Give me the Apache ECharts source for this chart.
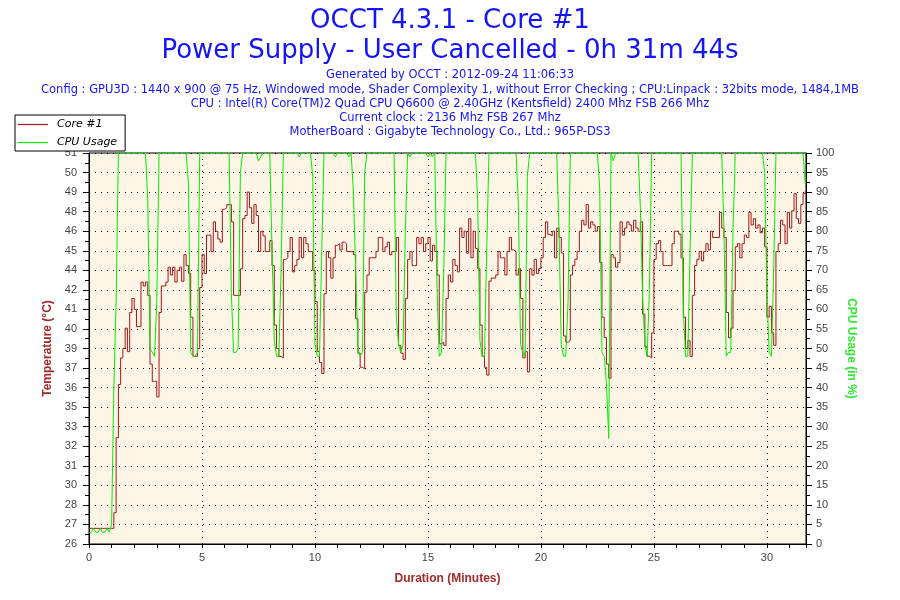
<!DOCTYPE html>
<html>
<head>
<meta charset="utf-8">
<script src="https://cdn.jsdelivr.net/npm/echarts@6/dist/echarts.min.js"></script>
<style>
html,body{margin:0;padding:0;background:#fff;}
#chart{width:900px;height:600px;}
</style>
</head>
<body>
<div id="chart"></div>
<script>
// Sample times (minutes)
const minutes = [
0,0.1,0.2,0.3,0.4,0.5,0.6,0.7,0.8,0.9,
1,1.1,1.2,1.3,1.4,1.5,1.6,1.7,1.8,1.9,
2,2.1,2.2,2.3,2.4,2.5,2.6,2.7,2.8,2.9,
3,3.1,3.2,3.3,3.4,3.5,3.6,3.7,3.8,3.9,
4,4.1,4.2,4.3,4.4,4.5,4.6,4.7,4.8,4.9,
5,5.1,5.2,5.3,5.4,5.5,5.6,5.7,5.8,5.9,
6,6.1,6.2,6.3,6.4,6.5,6.6,6.7,6.8,6.9,
7,7.1,7.2,7.3,7.4,7.5,7.6,7.7,7.8,7.9,
8,8.1,8.2,8.3,8.4,8.5,8.6,8.7,8.8,8.9,
9,9.1,9.2,9.3,9.4,9.5,9.6,9.7,9.8,9.9,
10,10.1,10.2,10.3,10.4,10.5,10.6,10.7,10.8,10.9,
11,11.1,11.2,11.3,11.4,11.5,11.6,11.7,11.8,11.9,
12,12.1,12.2,12.3,12.4,12.5,12.6,12.7,12.8,12.9,
13,13.1,13.2,13.3,13.4,13.5,13.6,13.7,13.8,13.9,
14,14.1,14.2,14.3,14.4,14.5,14.6,14.7,14.8,14.9,
15,15.1,15.2,15.3,15.4,15.5,15.6,15.7,15.8,15.9,
16,16.1,16.2,16.3,16.4,16.5,16.6,16.7,16.8,16.9,
17,17.1,17.2,17.3,17.4,17.5,17.6,17.7,17.8,17.9,
18,18.1,18.2,18.3,18.4,18.5,18.6,18.7,18.8,18.9,
19,19.1,19.2,19.3,19.4,19.5,19.6,19.7,19.8,19.9,
20,20.1,20.2,20.3,20.4,20.5,20.6,20.7,20.8,20.9,
21,21.1,21.2,21.3,21.4,21.5,21.6,21.7,21.8,21.9,
22,22.1,22.2,22.3,22.4,22.5,22.6,22.7,22.8,22.9,
23,23.1,23.2,23.3,23.4,23.5,23.6,23.7,23.8,23.9,
24,24.1,24.2,24.3,24.4,24.5,24.6,24.7,24.8,24.9,
25,25.1,25.2,25.3,25.4,25.5,25.6,25.7,25.8,25.9,
26,26.1,26.2,26.3,26.4,26.5,26.6,26.7,26.8,26.9,
27,27.1,27.2,27.3,27.4,27.5,27.6,27.7,27.8,27.9,
28,28.1,28.2,28.3,28.4,28.5,28.6,28.7,28.8,28.9,
29,29.1,29.2,29.3,29.4,29.5,29.6,29.7,29.8,29.9,
30,30.1,30.2,30.3,30.4,30.5,30.6,30.7,30.8,30.9,
31,31.1,31.2,31.3,31.4,31.5,31.6,31.7
];

// Core #1 temperature (°C), one value per sample time
const coreTemp = [
27,27,27,27,27,27,27,27,27,27,
27,28,32.8,36.2,37.9,38.5,39.8,38.3,40.8,41.7,
41,39.9,39.9,42.75,42.5,42.75,41.9,37.5,36.4,36.4,
35.4,40.8,42.5,42.5,42.75,43.7,43.2,43.7,42.75,43.5,
43.7,42.8,44.5,43.8,43.3,40.5,38,38,38.5,42.4,
44.5,43.3,45.75,45.75,44.7,46.6,46,45.5,45.3,47.4,
47.5,47.7,47.7,46.6,41.9,41.9,41.9,43.6,46.8,47,
48.5,47.5,46.5,47.7,47,44.7,46,45.7,44.7,44.7,
45.4,43.8,40,38.5,38,37.9,44.2,44.3,44.7,45.6,
43.4,43.8,44.2,45.6,44.3,45.6,45.2,44.7,44.7,43.5,
41.5,38.3,37.6,36.9,42,44.7,44.3,43,44.3,45.1,
45.2,44.8,45.3,45.2,44.7,44.7,44.7,44.5,40.4,38.2,
37.3,37.2,42.1,43.2,44.3,44.3,44.3,44.7,45.6,45.6,
44.7,45,45.3,44.5,44.7,44.7,45.6,38.7,38.2,37.8,
41.7,44.2,44.7,43.8,43.8,45.6,45.2,45.6,44.7,45.2,
45.6,44.1,45.1,44.7,43.2,38.8,38.9,38.7,41.7,43.2,
42.75,44.2,43.8,43.4,46.2,45.6,46,44.6,46.8,44.3,
46,44.9,43.6,40,38,37.3,36.8,42.8,43,43,
43.2,44.7,44.3,44.3,43.2,44.7,45.6,44.8,44.7,43.2,
43.6,41.7,37.9,38.3,37,43.6,43.2,44.2,43.3,43.6,
44.3,45.6,46.6,45.8,45.7,46,44.3,46.2,45.6,44.6,
39.3,38.9,39,43.2,43.8,44.2,44.7,46,46.7,46.4,
47.7,46.2,46.6,46.4,46,46.3,44,40.5,39.2,37.5,
36.6,44.5,44.3,43.7,44,46.6,45.75,46.2,46.6,46.4,
46,46.7,46.2,46,46.6,40.7,38.6,38,37.9,39.5,
44.2,45.2,45.4,44.7,43.8,43.8,43.8,43.8,45.2,46,
46,45.8,44.3,40.5,38.5,39,38,41.9,43.8,44.2,
44.7,44.1,44.7,45.2,44.8,46,45.6,45.6,45.6,47.2,
46.2,45.6,40.8,39.2,39.8,42.2,45,45.2,44.3,45.2,
45.75,45.6,47.2,46.4,46.8,46.2,46.4,45.9,46.2,45,
40.5,41.2,39.5,38.7,44.7,45.2,46.7,46.4,45.2,47.2,
46.2,47.3,48.4,46.8,46.5,47.7,48.4,48.6
];

// CPU usage (%), one value per sample time
const cpuUsage = [
3,3,4,3,3,4,3,3,4,3,
5,40,62,100,100,100,100,100,100,100,
100,100,100,100,100,100,88,50,49,48,
62,100,100,100,100,100,100,100,100,100,
100,100,100,100,92,49,48,48,49,100,
100,100,100,100,100,100,100,100,100,100,
100,100,100,64,49,49,50,95,100,100,
100,100,100,100,100,98,99,100,100,100,
100,75,52,48,48,70,100,100,100,100,
100,100,100,99,100,100,100,100,100,94,
51,48,48,75,100,100,100,100,100,99,
100,100,100,100,100,99,100,90,70,50,
48,49,95,100,100,100,100,100,100,100,
100,100,100,100,100,100,58,51,49,51,
80,100,99,100,100,100,100,100,100,100,
99,100,99,100,66,48,49,70,100,100,
100,100,100,100,100,100,100,100,100,100,
100,100,88,52,48,48,75,100,100,100,
100,100,100,100,100,100,100,100,100,100,
87,51,49,48,94,100,100,100,100,100,
100,100,100,100,100,100,100,100,80,51,
48,48,62,100,100,100,100,100,100,100,
100,100,100,100,100,100,91,49,48,41,
27,100,98,100,100,100,100,100,100,100,
100,100,100,100,86,63,51,48,65,100,
100,100,100,100,100,100,100,100,100,100,
100,100,100,60,48,48,75,100,100,100,
100,100,100,100,100,100,100,100,100,100,
100,80,48,49,49,80,100,100,100,100,
100,100,100,100,100,100,100,100,100,95,
64,49,48,70,100,100,100,100,100,100,
100,100,100,100,100,100,100,92
];

// Left axis tick labels as printed (rounded)
const tempTickLabels = ['26','27','28','30','31','32','33','35','36','37','39','40','41','42','44','45','46','48','49','50','51'];
const tempMin = 26, tempMax = 51, tempStep = 1.25;
const durationMax = 31.73;

const titleLines = ['OCCT 4.3.1 - Core #1', 'Power Supply - User Cancelled - 0h 31m 44s'];
const infoLines = [
  'Generated by OCCT : 2012-09-24 11:06:33',
  'Config : GPU3D : 1440 x 900 @ 75 Hz, Windowed mode, Shader Complexity 1, without Error Checking ; CPU:Linpack : 32bits mode, 1484,1MB',
  'CPU : Intel(R) Core(TM)2 Quad CPU Q6600 @ 2.40GHz (Kentsfield) 2400 Mhz FSB 266 Mhz',
  'Current clock : 2136 Mhz FSB 267 Mhz',
  'MotherBoard : Gigabyte Technology Co., Ltd.: 965P-DS3'
];

const tempData = minutes.map((t, i) => [t, coreTemp[i]]);
const cpuData = minutes.map((t, i) => [t, cpuUsage[i]]);

const chart = echarts.init(document.getElementById('chart'));
const blue = '#1414F5';
const graphics = [];
const titleY = [21, 51];
titleLines.forEach((s, i) => graphics.push({
  type: 'text', x: 450, y: titleY[i],
  style: { text: s, fill: blue, font: '26px "DejaVu Sans"', align: 'center', verticalAlign: 'middle' }
}));
const infoY = [75, 90, 104, 118, 132];
infoLines.forEach((s, i) => graphics.push({
  type: 'text', x: 450, y: infoY[i],
  style: { text: s, fill: blue, font: '11.5px "DejaVu Sans"', align: 'center', verticalAlign: 'middle' }
}));

const axisLabelStyle = { color: '#444', fontFamily: 'Liberation Sans', fontSize: 11 };
const dotted = { color: '#000', width: 1, type: [1, 5] };

chart.setOption({
  animation: false,
  backgroundColor: '#fff',
  graphic: graphics,
  grid: {
    left: 89, right: 94, top: 153, bottom: 56,
    show: true, backgroundColor: '#FDF6E7', borderColor: '#000', borderWidth: 1
  },
  legend: {
    left: 15, top: 115, orient: 'vertical',
    backgroundColor: '#fff', borderColor: '#000', borderWidth: 1, borderRadius: 0,
    padding: [4, 8, 3, 3], itemGap: 7, itemWidth: 30, itemHeight: 1.2,
    icon: 'rect',
    textStyle: { fontFamily: 'DejaVu Sans', fontStyle: 'italic', fontSize: 11, color: '#000', padding: [0, 0, 0, 4] },
    data: ['Core #1', 'CPU Usage']
  },
  xAxis: {
    type: 'value', min: 0, max: durationMax, interval: 5,
    name: 'Duration (Minutes)', nameLocation: 'middle', nameGap: 29,
    nameTextStyle: { color: '#A52A2A', fontWeight: 'bold', fontFamily: 'Liberation Sans', fontSize: 12 },
    axisLine: { show: true, lineStyle: { color: '#000', width: 1 } },
    axisTick: { show: true, length: 4, lineStyle: { color: '#000' } },
    minorTick: { show: true, splitNumber: 5, length: 4, lineStyle: { color: '#000' } },
    axisLabel: Object.assign({ margin: 8, showMaxLabel: false }, axisLabelStyle),
    splitLine: { show: true, lineStyle: dotted }
  },
  yAxis: [
    {
      type: 'value', position: 'left', min: tempMin, max: tempMax, interval: tempStep,
      name: 'Temperature (°C)', nameLocation: 'middle', nameGap: 22, nameRotate: 90,
      nameTextStyle: { color: '#A52A2A', fontWeight: 'bold', fontFamily: 'Liberation Sans', fontSize: 12 },
      axisLine: { show: true, lineStyle: { color: '#000', width: 1 } },
      axisTick: { show: true, length: 6, lineStyle: { color: '#000' } },
      minorTick: { show: true, splitNumber: 2, length: 4, lineStyle: { color: '#000' } },
      axisLabel: Object.assign({
        margin: 12,
        formatter: v => tempTickLabels[Math.round((v - tempMin) / tempStep)] || ''
      }, axisLabelStyle),
      splitLine: { show: true, lineStyle: dotted }
    },
    {
      type: 'value', position: 'right', min: 0, max: 100, interval: 5,
      name: 'CPU Usage (in %)', nameLocation: 'middle', nameGap: 30, nameRotate: -90,
      nameTextStyle: { color: '#33E833', fontWeight: 'bold', fontFamily: 'Liberation Sans', fontSize: 12 },
      axisLine: { show: true, lineStyle: { color: '#000', width: 1 } },
      axisTick: { show: true, length: 6, lineStyle: { color: '#000' } },
      minorTick: { show: true, splitNumber: 2, length: 4, lineStyle: { color: '#000' } },
      axisLabel: Object.assign({ margin: 10 }, axisLabelStyle),
      splitLine: { show: false }
    }
  ],
  series: [
    {
      name: 'Core #1', type: 'line', yAxisIndex: 0, data: tempData,
      step: 'end', symbol: 'none', z: 2,
      lineStyle: { color: '#A01818', width: 1 }, itemStyle: { color: '#A01818' }
    },
    {
      name: 'CPU Usage', type: 'line', yAxisIndex: 1, data: cpuData,
      symbol: 'none', z: 3,
      lineStyle: { color: '#00EE00', width: 1 }, itemStyle: { color: '#00EE00' }
    }
  ]
});
</script>
</body>
</html>
